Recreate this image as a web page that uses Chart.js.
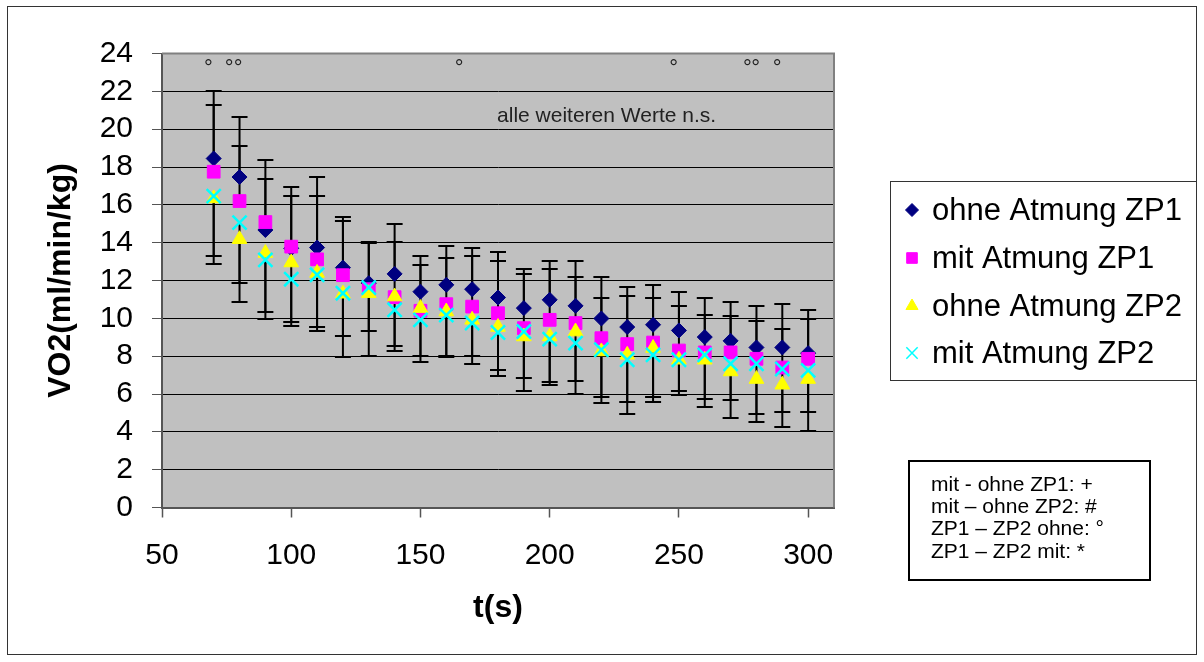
<!DOCTYPE html>
<html>
<head>
<meta charset="utf-8">
<script src="https://cdn.jsdelivr.net/npm/chart.js@4/dist/chart.umd.min.js"></script>
<style>
  body { margin: 0; background: #fff; }
  canvas { display: block; }
</style>
</head>
<body>
<canvas id="vo2Chart" width="1204" height="662"></canvas>
<script>
// Messzeitpunkte (s)
const zeit = [70, 80, 90, 100, 110, 120, 130, 140, 150, 160, 170, 180,
  190, 200, 210, 220, 230, 240, 250, 260, 270, 280, 290, 300];

// Mittelwerte VO2
const ohneZP1 = [18.45, 17.47, 14.67, 13.7, 13.74, 12.68, 11.86, 12.35, 11.41, 11.77, 11.54, 11.1,
  10.54, 10.98, 10.66, 9.99, 9.54, 9.66, 9.36, 9.01, 8.81, 8.46, 8.46, 8.16];
const mitZP1 = [17.75, 16.2, 15.09, 13.79, 13.12, 12.28, 11.54, 11.12, 10.4, 10.75, 10.62, 10.27,
  9.48, 9.92, 9.75, 8.95, 8.64, 8.72, 8.3, 8.2, 8.2, 7.86, 7.4, 7.86];
const ohneZP2 = [16.34, 14.18, 13.45, 12.95, 12.4, 11.3, 11.33, 11.15, 10.54, 10.36, 9.92, 9.54,
  9.04, 9.04, 9.3, 8.25, 8.07, 8.43, 7.81, 7.81, 7.19, 6.79, 6.49, 6.79];
const mitZP2 = [16.46, 15.06, 13.09, 12.07, 12.3, 11.33, 11.63, 10.45, 9.92, 10.17, 9.75, 9.25,
  9.3, 8.9, 8.69, 8.34, 7.81, 8.07, 7.81, 8.07, 7.6, 7.6, 7.32, 7.25];

// Standardabweichungen (ZP1 nach oben, ZP2 nach unten)
const sdOhneZP1 = [3.55, 3.16, 3.68, 3.24, 3.73, 2.69, 2.18, 2.62, 1.89, 2.07, 2.2, 2.41,
  2.07, 2.07, 2.39, 2.2, 2.11, 2.11, 2.05, 2.06, 2.06, 2.18, 2.32, 2.27];
const sdMitZP1 = [3.55, 2.9, 2.27, 2.69, 3.36, 2.87, 2.43, 2.93, 2.44, 2.43, 2.68, 2.78,
  2.85, 2.69, 2.42, 2.13, 2.56, 2.36, 2.34, 2.0, 1.9, 2.02, 2.05, 2.11];
const sdOhneZP2 = [3.48, 3.31, 3.46, 3.38, 3.06, 3.37, 3.33, 2.9, 2.84, 2.43, 2.34, 2.61,
  2.9, 2.57, 3.28, 2.75, 3.11, 2.84, 1.86, 2.52, 2.48, 2.29, 2.22, 2.73];
const sdMitZP2 = [3.18, 3.19, 2.75, 2.29, 2.76, 2.24, 2.29, 1.9, 1.93, 2.17, 1.75, 1.97,
  2.48, 2.24, 2.01, 2.52, 2.22, 2.25, 1.67, 2.34, 1.9, 2.64, 2.27, 2.2];

// Signifikanz-Zeichen oben im Diagramm
const sigZeit = [68, 76, 79.5, 165, 248, 276.5, 279.7, 288];
const sigWert = 23.55;

const serienNamen = ["ohne Atmung ZP1", "mit Atmung ZP1", "ohne Atmung ZP2", "mit Atmung ZP2"];
const hinweisText = "alle weiteren Werte n.s.";
const legendeZeilen = ["mit - ohne ZP1: +", "mit \u2013 ohne ZP2: #", "ZP1 \u2013 ZP2 ohne: \u00b0", "ZP1 \u2013 ZP2 mit: *"];

const FONT = "'Liberation Sans', Arial, sans-serif";
Chart.defaults.font.family = FONT;
Chart.defaults.color = "#000";

function punkte(werte) {
  return zeit.map((t, i) => ({ x: t, y: werte[i] }));
}

// Hintergrund + Plotrahmen
const hintergrund = {
  id: "hintergrund",
  beforeDraw(chart) {
    const { ctx, chartArea: a } = chart;
    ctx.save();
    ctx.fillStyle = "#fff";
    ctx.fillRect(0, 0, chart.width, chart.height);
    ctx.fillStyle = "#c0c0c0";
    ctx.fillRect(a.left, a.top, a.right - a.left, a.bottom - a.top);
    ctx.strokeStyle = "#333";
    ctx.lineWidth = 1;
    ctx.strokeRect(7.5, 6.5, 1189, 648);
    ctx.restore();
  }
};

// Fehlerbalken
const fehlerbalken = {
  id: "fehlerbalken",
  beforeDatasetsDraw(chart) {
    const { ctx } = chart;
    const y = chart.scales.y;
    const a = chart.chartArea;

    ctx.save();
    // oberer und rechter Rahmen grau
    ctx.strokeStyle = "#808080";
    ctx.lineWidth = 2;
    ctx.beginPath();
    ctx.moveTo(a.left, a.top);
    ctx.lineTo(a.right, a.top);
    ctx.lineTo(a.right, a.bottom);
    ctx.stroke();

    ctx.strokeStyle = "#000";
    ctx.lineWidth = 2;
    chart.data.datasets.forEach((ds, di) => {
      if (!ds.fehler) return;
      const meta = chart.getDatasetMeta(di);
      meta.data.forEach((pt, i) => {
        const mw = ds.data[i].y;
        const ende = ds.richtung > 0 ? mw + ds.fehler[i] : mw - ds.fehler[i];
        const y0 = y.getPixelForValue(mw);
        const y1 = Math.round(y.getPixelForValue(ende));
        ctx.beginPath();
        ctx.moveTo(pt.x, y0);
        ctx.lineTo(pt.x, y1);
        ctx.moveTo(pt.x - 8, y1);
        ctx.lineTo(pt.x + 8, y1);
        ctx.stroke();
      });
    });
    ctx.restore();
  }
};

// Texte, Legende, Kasten
const beschriftung = {
  id: "beschriftung",
  afterDraw(chart) {
    const { ctx } = chart;
    const x = chart.scales.x;
    const y = chart.scales.y;

    ctx.save();
    // Signifikanz-Kreise
    ctx.fillStyle = "#222";
    ctx.font = "22px " + FONT;
    ctx.textAlign = "center";
    ctx.textBaseline = "alphabetic";
    sigZeit.forEach(t => {
      ctx.fillText("\u00b0", x.getPixelForValue(t), y.getPixelForValue(sigWert) + 12.5);
    });

    // Hinweis
    ctx.font = "21px " + FONT;
    ctx.textBaseline = "middle";
    ctx.fillText(hinweisText, x.getPixelForValue(222), y.getPixelForValue(20.7));

    // Legende
    ctx.strokeStyle = "#333";
    ctx.lineWidth = 1;
    ctx.strokeRect(890.5, 181.5, 306, 199);
    const zeilenY = [210, 258, 306, 353];
    chart.data.datasets.forEach((ds, i) => {
      if (!ds.label) return;
      ctx.fillStyle = ds.backgroundColor;
      ctx.strokeStyle = ds.borderColor;
      ctx.lineWidth = ds.pointStyle === "crossRot" ? 1.5 : 1;
      Chart.helpers.drawPoint(ctx, {
        pointStyle: ds.pointStyle,
        radius: ds.legendRadius,
        rotation: 0,
        borderWidth: ctx.lineWidth
      }, 912, zeilenY[i]);
      ctx.fillStyle = "#000";
      ctx.font = "31px " + FONT;
      ctx.textAlign = "left";
      ctx.fillText(ds.label, 932, zeilenY[i] + 1);
    });

    // Signifikanz-Kasten
    ctx.strokeStyle = "#000";
    ctx.lineWidth = 2;
    ctx.strokeRect(909, 461, 241, 119);
    ctx.fillStyle = "#000";
    ctx.font = "21px " + FONT;
    ctx.textAlign = "left";
    legendeZeilen.forEach((z, i) => {
      ctx.fillText(z, 931, 485 + i * 22.3);
    });
    ctx.restore();
  }
};

new Chart(document.getElementById("vo2Chart"), {
  type: "scatter",
  data: {
    datasets: [
      {
        label: serienNamen[0],
        data: punkte(ohneZP1),
        fehler: sdOhneZP1,
        richtung: 1,
        pointStyle: "rectRot",
        pointRadius: 7.5,
        legendRadius: 6.5,
        backgroundColor: "#000080",
        borderColor: "#000080",
        borderWidth: 1,
        order: 4
      },
      {
        label: serienNamen[1],
        data: punkte(mitZP1),
        fehler: sdMitZP1,
        richtung: 1,
        pointStyle: "rect",
        pointRadius: 9,
        legendRadius: 7.5,
        backgroundColor: "#ff00ff",
        borderColor: "#ff00ff",
        borderWidth: 1,
        order: 3
      },
      {
        label: serienNamen[2],
        data: punkte(ohneZP2),
        fehler: sdOhneZP2,
        richtung: -1,
        pointStyle: "triangle",
        pointRadius: 8.5,
        legendRadius: 7,
        backgroundColor: "#ffff00",
        borderColor: "#ffff00",
        borderWidth: 1,
        order: 2
      },
      {
        label: serienNamen[3],
        data: punkte(mitZP2),
        fehler: sdMitZP2,
        richtung: -1,
        pointStyle: "crossRot",
        pointRadius: 10,
        legendRadius: 8,
        backgroundColor: "#00ffff",
        borderColor: "#00ffff",
        borderWidth: 2.5,
        order: 1
      }
    ]
  },
  options: {
    responsive: false,
    animation: false,
    events: [],
    layout: {
      padding: { left: 0, right: 370, top: 53.5, bottom: 0 }
    },
    plugins: {
      legend: { display: false },
      tooltip: { enabled: false }
    },
    scales: {
      x: {
        type: "linear",
        min: 50,
        max: 310,
        afterFit: s => { s.height = 154.5; },
        ticks: { stepSize: 50, includeBounds: false, autoSkip: false, font: { size: 30 }, padding: 20, maxRotation: 0 },
        grid: { drawOnChartArea: false, tickLength: 10, tickColor: "#555", tickWidth: 1.5 },
        border: { color: "#555", width: 2 },
        title: {
          display: true,
          text: "t(s)",
          font: { size: 32, weight: "bold" },
          padding: { top: 0, bottom: 35 }
        }
      },
      y: {
        min: 0,
        max: 24,
        afterFit: s => { s.width = 162; },
        ticks: { stepSize: 2, autoSkip: false, font: { size: 30 }, padding: 19 },
        grid: { color: "#000", lineWidth: 1, tickLength: 10, tickColor: "#555" },
        border: { color: "#555", width: 2 },
        title: {
          display: true,
          text: "VO2(ml/min/kg)",
          font: { size: 32, weight: "bold" },
          padding: { top: 42, bottom: 0 }
        }
      }
    }
  },
  plugins: [hintergrund, fehlerbalken, beschriftung]
});
</script>
</body>
</html>
